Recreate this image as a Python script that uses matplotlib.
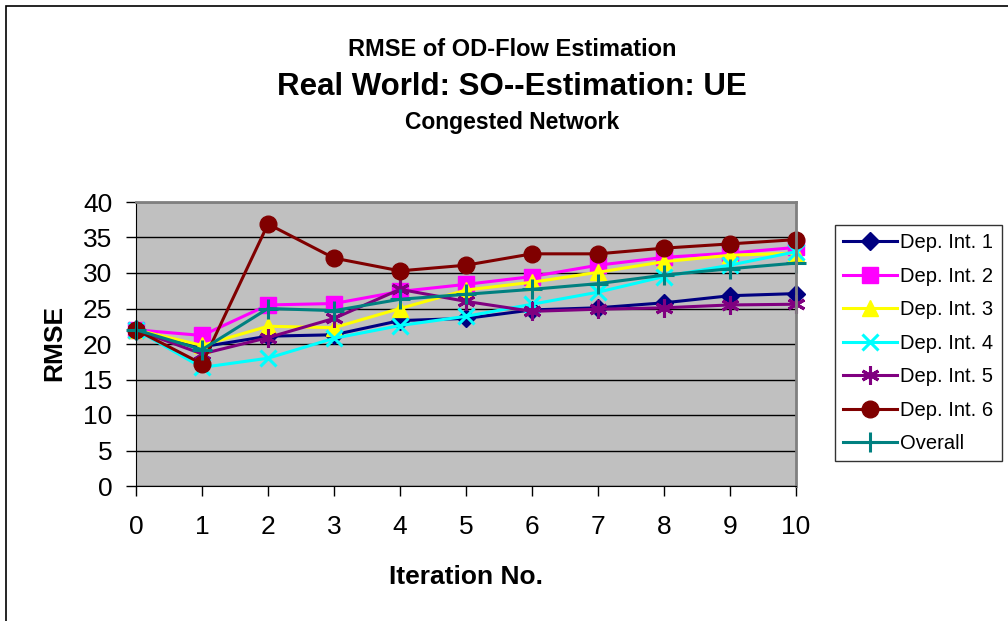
import matplotlib
matplotlib.use("Agg")
import matplotlib.pyplot as plt
from matplotlib.patches import Rectangle

plt.rcParams["font.family"] = ["Liberation Sans", "DejaVu Sans"]

iterations = list(range(11))
dep1 = [22.0, 19.6, 21.1, 21.3, 23.3, 23.6, 24.8, 25.1, 25.8, 26.8, 27.1]
dep2 = [22.0, 21.2, 25.5, 25.7, 27.4, 28.4, 29.5, 31.1, 32.2, 32.8, 33.6]
dep3 = [22.0, 19.8, 22.5, 22.3, 25.0, 27.6, 28.7, 30.1, 31.6, 32.5, 32.8]
dep4 = [22.0, 16.7, 18.0, 20.8, 22.6, 23.9, 25.6, 27.3, 29.5, 31.1, 33.0]
dep5 = [22.0, 18.6, 20.9, 23.6, 27.7, 26.0, 24.6, 24.9, 25.1, 25.5, 25.6]
dep6 = [22.0, 17.2, 36.9, 32.1, 30.3, 31.1, 32.7, 32.7, 33.5, 34.1, 34.7]
overall = [22.0, 19.2, 25.0, 24.7, 26.3, 27.0, 27.7, 28.5, 29.7, 30.6, 31.4]

series = [
    ("Dep. Int. 1", dep1, "#000080", "D", 9),
    ("Dep. Int. 2", dep2, "#FF00FF", "s", 11),
    ("Dep. Int. 3", dep3, "#FFFF00", "^", 12),
    ("Dep. Int. 4", dep4, "#00FFFF", "x", 11),
    ("Dep. Int. 5", dep5, "#800080", (6, 2, 0), 13),
    ("Dep. Int. 6", dep6, "#800000", "o", 12),
    ("Overall", overall, "#008080", "+", 14),
]

fig = plt.figure(figsize=(10.08, 6.21), dpi=100)
ax = fig.add_axes([136 / 1008, 1 - 486 / 621, 660 / 1008, 284 / 621])
ax.set_facecolor("#C0C0C0")

for label, values, color, marker, size in series:
    thin = marker in ("x", "+", (6, 2, 0))
    ax.plot(iterations, values, color=color, marker=marker, markersize=size,
            linewidth=2.2, markeredgewidth=2.2 if thin else 1,
            markeredgecolor=color, label=label, clip_on=False)

ax.set_xlim(0, 10)
ax.set_ylim(0, 40)
ax.set_xticks(iterations)
ax.set_yticks(range(0, 41, 5))
ax.yaxis.grid(True, color="black", linewidth=1)
ax.set_axisbelow(True)
ax.tick_params(labelsize=19, direction="out", length=7, width=1)
ax.tick_params(axis="x", pad=14)
ax.tick_params(axis="y", pad=10)
ax.spines["top"].set_color("#808080")
ax.spines["right"].set_color("#808080")
ax.spines["top"].set_linewidth(2)
ax.spines["right"].set_linewidth(2)

ax.set_xlabel("Iteration No.", fontsize=19, fontweight="bold")
ax.xaxis.set_label_coords(0.5, (486 - 565) / 284)
ax.set_ylabel("RMSE", fontsize=19, fontweight="bold")
ax.yaxis.set_label_coords((66 - 136) / 660, (486 - 343) / 284)

fig.text(0.508, 1 - 50 / 621, "RMSE of OD-Flow Estimation", ha="center", va="center",
         fontsize=17, fontweight="bold")
fig.text(0.508, 1 - 87 / 621, "Real World: SO--Estimation: UE", ha="center", va="center",
         fontsize=22.5, fontweight="bold")
fig.text(0.508, 1 - 122 / 621, "Congested Network", ha="center", va="center",
         fontsize=16.5, fontweight="bold")

leg = fig.legend(loc="upper left", bbox_to_anchor=(835 / 1008, 1 - 225 / 621),
                 fontsize=14.5, frameon=True, fancybox=False, edgecolor="black",
                 borderpad=0.4, labelspacing=0.72, handlelength=2.7, handletextpad=0.15,
                 borderaxespad=0)
leg.get_frame().set_linewidth(1)

fig.patches.append(Rectangle((6 / 1008, -0.1), 1.1, 1 - 6 / 621 + 0.1,
                             transform=fig.transFigure, fill=False,
                             edgecolor="black", linewidth=1.2))

fig.savefig("out.png", dpi=100)
